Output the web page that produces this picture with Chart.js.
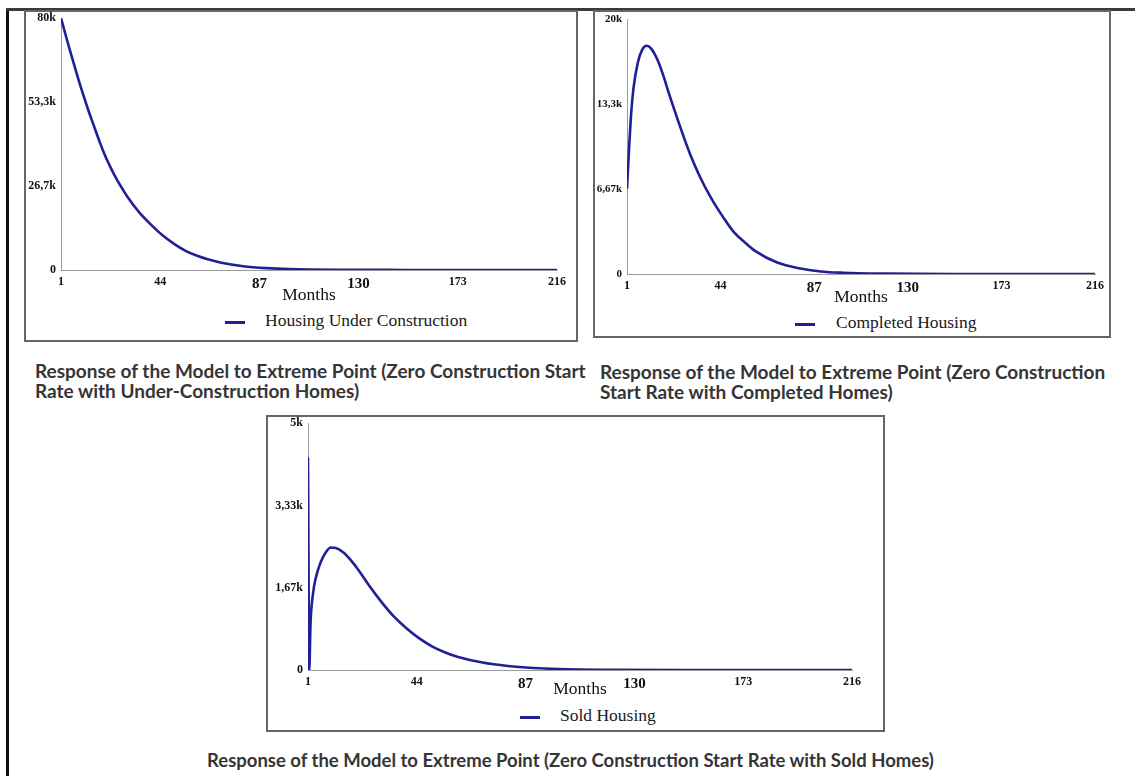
<!DOCTYPE html>
<html>
<head>
<meta charset="utf-8">
<title>Response of the Model to Extreme Point</title>
<script src="https://cdn.jsdelivr.net/npm/chart.js"></script>
<style>
  body { margin: 0; background: #fff; width: 1135px; height: 776px; position: relative; overflow: hidden; }
  .edge-left { position: absolute; left: 6px; top: 8px; width: 3px; height: 768px; background: #111; z-index: 0; }
  .edge-top { position: absolute; left: 6px; top: 8px; width: 1129px; height: 3px; background: #3a3a3a; z-index: 0; }
  .panel { position: absolute; border: 2px solid #666; box-sizing: border-box; z-index: 0; }
  canvas { position: absolute !important; z-index: 5; }
  .legend { position: absolute; font-family: "Liberation Serif", serif; font-size: 17.5px; color: #1a1a1a; white-space: nowrap; line-height: 20px; }
  .legend span { position: absolute; left: 0; top: 11px; width: 20px; height: 3px; background: #1f1f96; }
  .legend b { font-weight: normal; position: absolute; top: 0; white-space: nowrap; }
  .cap { position: absolute; font-family: Lato, sans-serif; font-weight: 700; font-size: 19px; color: #353535; line-height: 20px; white-space: nowrap; }
</style>
</head>
<body>
<div class="edge-left"></div>
<div class="edge-top"></div>

<div class="panel" style="left:24px; top:10px; width:554px; height:332px;"></div>
<div class="panel" style="left:593px; top:10px; width:518px; height:328px;"></div>
<div class="panel" style="left:266px; top:415px; width:619px; height:317px;"></div>

<canvas id="under" width="560" height="308" style="left:16px; top:2px;"></canvas>
<canvas id="completed" width="524" height="310" style="left:585px; top:2px;"></canvas>
<canvas id="sold" width="625" height="300" style="left:258px; top:405px;"></canvas>

<div class="legend" style="left:225px; top:310px;"><span></span><b style="left:40px;">Housing Under Construction</b></div>
<div class="legend" style="left:795px; top:312px;"><span></span><b style="left:41px;">Completed Housing</b></div>
<div class="legend" style="left:520px; top:705px;"><span></span><b style="left:40px;">Sold Housing</b></div>

<div class="cap" style="left:35px; top:361px;">Response of the Model to Extreme Point (Zero Construction Start<br>Rate with Under-Construction Homes)</div>
<div class="cap" style="left:600px; top:362px;">Response of the Model to Extreme Point (Zero Construction<br>Start Rate with Completed Homes)</div>
<div class="cap" style="left:207px; top:750px; font-size:18.5px;">Response of the Model to Extreme Point (Zero Construction Start Rate with Sold Homes)</div>

<script>
// months on the x axis, shared by all three panels
const xTicks = [1, 44, 87, 130, 173, 216];
const xTicksBig = [87, 130];

// Housing under construction (thousands)
const monthsUnder = [1, 3, 5, 8, 10, 13, 15, 18, 20, 23, 25, 28, 30, 35, 40, 45, 50, 55, 60, 65, 70, 80, 90, 100, 120, 150, 180, 216];
const valuesUnder = [80, 74.6, 69.4, 61.9, 57.1, 50.4, 46.3, 40.2, 36.5, 31.8, 29, 25.3, 23, 18.2, 14.4, 11, 8.3, 6.1, 4.5, 3.3, 2.4, 1.2, 0.6, 0.3, 0.08, 0.02, 0, 0];
const yTicksUnder = [0, 26.67, 53.33, 80];
const yLabelsUnder = ["0", "26,7k", "53,3k", "80k"];

// Completed housing (thousands)
const monthsCompleted = [1, 2, 3, 4, 6, 8, 10, 12, 15, 18, 20, 23, 25, 28, 30, 35, 40, 45, 50, 55, 60, 70, 80, 90, 100, 120, 150, 216];
const valuesCompleted = [6.7, 10, 12.8, 14.6, 16.6, 17.6, 17.9, 17.7, 16.8, 15.4, 14.3, 12.75, 11.75, 10.3, 9.4, 7.45, 5.85, 4.5, 3.3, 2.5, 1.8, 0.9, 0.45, 0.2, 0.1, 0.03, 0, 0];
const yTicksCompleted = [0, 6.67, 13.33, 20];
const yLabelsCompleted = ["0", "6,67k", "13,3k", "20k"];

// Sold housing (thousands)
const monthsSold = [1, 1.5, 2, 3, 4, 6, 8, 10, 12, 15, 18, 21, 25, 30, 35, 40, 45, 50, 55, 60, 70, 80, 90, 100, 120, 150, 216];
const valuesSold = [4.3, 0, 0.95, 1.55, 1.85, 2.18, 2.38, 2.48, 2.47, 2.38, 2.22, 2.02, 1.72, 1.38, 1.08, 0.84, 0.64, 0.48, 0.36, 0.27, 0.15, 0.08, 0.04, 0.02, 0.005, 0, 0];
const yTicksSold = [0, 1.67, 3.33, 5];
const yLabelsSold = ["0", "1,67k", "3,33k", "5k"];

const serif = "'Liberation Serif', 'Times New Roman', serif";

function makeChart(id, months, values, yTicks, yLabels, box) {
  const points = months.map((m, i) => ({ x: m, y: values[i] }));
  return new Chart(id, {
    type: "line",
    data: {
      datasets: [{
        data: points,
        borderColor: "#1f1f96",
        borderWidth: 2.6,
        pointRadius: 0,
        fill: false,
        cubicInterpolationMode: "monotone",
      }],
    },
    options: {
      responsive: false,
      animation: false,
      layout: { padding: { top: box.top, right: box.right, left: 0, bottom: 0 } },
      plugins: { legend: { display: false }, tooltip: { enabled: false } },
      scales: {
        x: {
          type: "linear",
          min: 1,
          max: 216,
          afterBuildTicks: (s) => { s.ticks = xTicks.map((v) => ({ value: v })); },
          afterFit: (s) => { s.height = box.xHeight; },
          grid: { display: false, drawTicks: false },
          border: { display: true, color: "#9a9a9a", width: 1 },
          ticks: {
            autoSkip: false,
            maxRotation: 0,
            padding: 5,
            color: "#111",
            font: (c) => xTicksBig.includes(c.tick && c.tick.value)
              ? { family: serif, size: 15, weight: "bold" }
              : { family: serif, size: 12, weight: "bold" },
            callback: (v) => String(v),
          },
          title: {
            display: true,
            text: "Months",
            color: "#111",
            font: { family: serif, size: 17.5 },
            padding: { top: 0, bottom: box.titlePad },
          },
        },
        y: {
          min: 0,
          max: yTicks[yTicks.length - 1],
          afterBuildTicks: (s) => { s.ticks = yTicks.map((v) => ({ value: v })); },
          afterFit: (s) => { s.width = box.yWidth; },
          grid: { display: false, drawTicks: false },
          border: { display: true, color: "#9a9a9a", width: 1 },
          ticks: {
            padding: 5,
            color: "#111",
            font: { family: serif, size: box.ySize, weight: "bold" },
            callback: (v, i) => yLabels[i],
          },
        },
      },
    },
  });
}

makeChart("under", monthsUnder, valuesUnder, yTicksUnder, yLabelsUnder,
  { top: 16, right: 19, xHeight: 40, yWidth: 45, titlePad: 4, ySize: 12 });
makeChart("completed", monthsCompleted, valuesCompleted, yTicksCompleted, yLabelsCompleted,
  { top: 17, right: 9, xHeight: 38, yWidth: 42, titlePad: 4, ySize: 11 });
makeChart("sold", monthsSold, valuesSold, yTicksSold, yLabelsSold,
  { top: 18, right: 31, xHeight: 35, yWidth: 50, titlePad: 5, ySize: 12 });
</script>
</body>
</html>
